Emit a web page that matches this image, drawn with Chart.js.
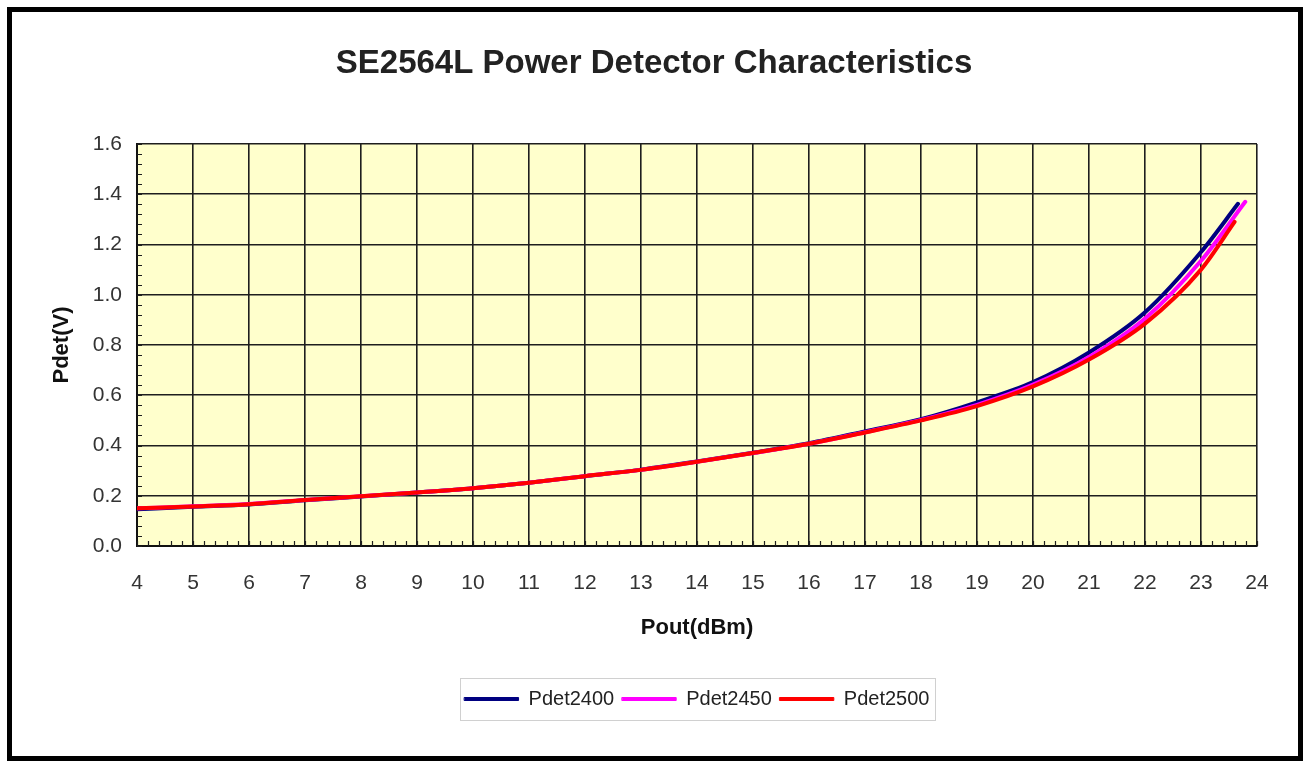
<!DOCTYPE html>
<html><head><meta charset="utf-8">
<script src="https://cdn.jsdelivr.net/npm/chart.js@4.4.1/dist/chart.umd.min.js"></script>
<style>
html,body{margin:0;padding:0;background:#fff;}
#frame{position:absolute;left:7px;top:7px;width:1296px;height:754px;border:5px solid #000;box-sizing:border-box;}
#wrap{position:absolute;left:0;top:0;width:1308px;height:765px;}
</style></head><body>
<div id="frame"></div>
<div id="wrap"><canvas id="c" width="1308" height="765"></canvas></div>
<script>
const chartTitle = 'SE2564L Power Detector Characteristics';
const xTitle = 'Pout(dBm)';
const yTitle = 'Pdet(V)';
const seriesNames = ['Pdet2400', 'Pdet2450', 'Pdet2500'];
const seriesColors = ['#000080', '#FF00FF', '#FF0000'];

const pout2400 = [4,5,6,7,8,9,10,11,12,13,14,15,16,17,18,19,20,21,22,23,23.66];
const pdet2400 = [0.146,0.156,0.165,0.182,0.197,0.213,0.23,0.252,0.278,0.304,0.336,0.371,0.409,0.456,0.505,0.572,0.652,0.77,0.93,1.17,1.362];
const pout2450 = [4,5,6,7,8,9,10,11,12,13,14,15,16,17,18,19,20,21,22,23,23.79];
const pdet2450 = [0.15,0.158,0.167,0.183,0.198,0.213,0.23,0.252,0.278,0.303,0.335,0.37,0.407,0.453,0.502,0.562,0.642,0.752,0.905,1.135,1.37];
const pout2500 = [4,5,6,7,8,9,10,11,12,13,14,15,16,17,18,19,20,21,22,23,23.6];
const pdet2500 = [0.15,0.157,0.166,0.183,0.198,0.213,0.23,0.252,0.278,0.303,0.335,0.37,0.407,0.452,0.5,0.557,0.635,0.742,0.885,1.1,1.29];

const xMin = 4, xMax = 24, xStep = 1, xMinorStep = 0.2;
const yMin = 0, yMax = 1.6, yStep = 0.2, yMinorStep = 0.04;

const FONT = "'Liberation Sans', Arial, sans-serif";

function pts(xs, ys){ return xs.map((x,i)=>({x:x, y:ys[i]})); }

const plotBg = {
  id:'plotBg',
  beforeDraw(chart){
    const {ctx, chartArea:a} = chart;
    ctx.save(); ctx.fillStyle = '#FFFFCC';
    ctx.fillRect(a.left, a.top, a.right-a.left, a.bottom-a.top);
    ctx.restore();
  }
};
const minorTicks = {
  id:'minorTicks',
  beforeDatasetsDraw(chart){
    const {ctx, chartArea:a, scales} = chart;
    const x = scales.x, y = scales.y;
    ctx.save(); ctx.strokeStyle = '#1e1e1e'; ctx.lineWidth = 1.2;
    ctx.beginPath();
    const nx = Math.round((xMax-xMin)/xMinorStep);
    for (let i=0;i<=nx;i++){ const px = Math.round(x.getPixelForValue(xMin+i*xMinorStep))+0.5; ctx.moveTo(px,a.bottom); ctx.lineTo(px,a.bottom-5); }
    const ny = Math.round((yMax-yMin)/yMinorStep);
    for (let i=0;i<=ny;i++){ const py = Math.round(y.getPixelForValue(yMin+i*yMinorStep))+0.5; ctx.moveTo(a.left,py); ctx.lineTo(a.left+5,py); }
    ctx.stroke(); ctx.restore();
  }
};
const legendFrame = {
  id:'legendFrame',
  afterDraw(chart){
    const hb = chart.legend && chart.legend.legendHitBoxes;
    if (!hb || !hb.length) return;
    let l=Infinity, r=-Infinity, t=Infinity, b=-Infinity;
    hb.forEach(h=>{ l=Math.min(l,h.left); r=Math.max(r,h.left+h.width); t=Math.min(t,h.top); b=Math.max(b,h.top+h.height); });
    const ctx = chart.ctx;
    ctx.save(); ctx.strokeStyle='#d0d0d0'; ctx.lineWidth=1;
    ctx.strokeRect(Math.round(l-5)+0.5, Math.round(t-11)+0.5, Math.round(r-l+10), Math.round(b-t+22));
    ctx.restore();
  }
};

new Chart(document.getElementById('c'), {
  type:'line',
  data:{
    datasets:[
      {label:seriesNames[0], data:pts(pout2400,pdet2400), borderColor:seriesColors[0], backgroundColor:seriesColors[0], order:2},
      {label:seriesNames[1], data:pts(pout2450,pdet2450), borderColor:seriesColors[1], backgroundColor:seriesColors[1], order:1},
      {label:seriesNames[2], data:pts(pout2500,pdet2500), borderColor:seriesColors[2], backgroundColor:seriesColors[2], order:0}
    ]
  },
  options:{
    responsive:false,
    animation:false,
    layout:{padding:{left:0,right:0,top:0,bottom:46}},
    elements:{
      line:{borderWidth:4, cubicInterpolationMode:'monotone', borderCapStyle:'round'},
      point:{radius:0}
    },
    plugins:{
      title:{display:true, text:chartTitle, color:'#222', font:{family:FONT, size:33, weight:'bold'}, padding:{top:44, bottom:60.4}},
      legend:{
        position:'bottom', fullSize:false,
        labels:{font:{family:FONT, size:20}, color:'#222', boxWidth:54, boxHeight:3, padding:8,
          generateLabels(chart){
            const items = Chart.defaults.plugins.legend.labels.generateLabels(chart);
            items.forEach(it=>{ it.lineWidth = 1; });
            return items;
          },
          sort:(a,b)=>a.datasetIndex-b.datasetIndex}
      },
      tooltip:{enabled:false}
    },
    scales:{
      x:{
        type:'linear', min:xMin, max:xMax,
        afterFit(s){ s.height = 135; },
        ticks:{stepSize:xStep, font:{family:FONT, size:21}, color:'#333', padding:25},
        grid:{color:'#1e1e1e', lineWidth:1.6, drawTicks:false},
        border:{display:true, color:'#111', width:2},
        title:{display:true, text:xTitle, color:'#111', font:{family:FONT, size:22, weight:'bold'}, padding:{top:0, bottom:40}}
      },
      y:{
        type:'linear', min:yMin, max:yMax,
        afterFit(s){ s.width = 137; },
        ticks:{stepSize:yStep, font:{family:FONT, size:21}, color:'#333', padding:15, callback:v=>Number(v).toFixed(1)},
        grid:{color:'#1e1e1e', lineWidth:1.6, drawTicks:false},
        border:{display:true, color:'#111', width:2},
        title:{display:true, text:yTitle, color:'#111', font:{family:FONT, size:22, weight:'bold'}, padding:{top:49, bottom:0}}
      },
      yR:{
        type:'linear', position:'right', display:true,
        afterFit(s){ s.width = 51; },
        ticks:{display:false}, grid:{display:false}, border:{display:false}
      }
    }
  },
  plugins:[plotBg, minorTicks, legendFrame]
});
</script>
</body></html>
